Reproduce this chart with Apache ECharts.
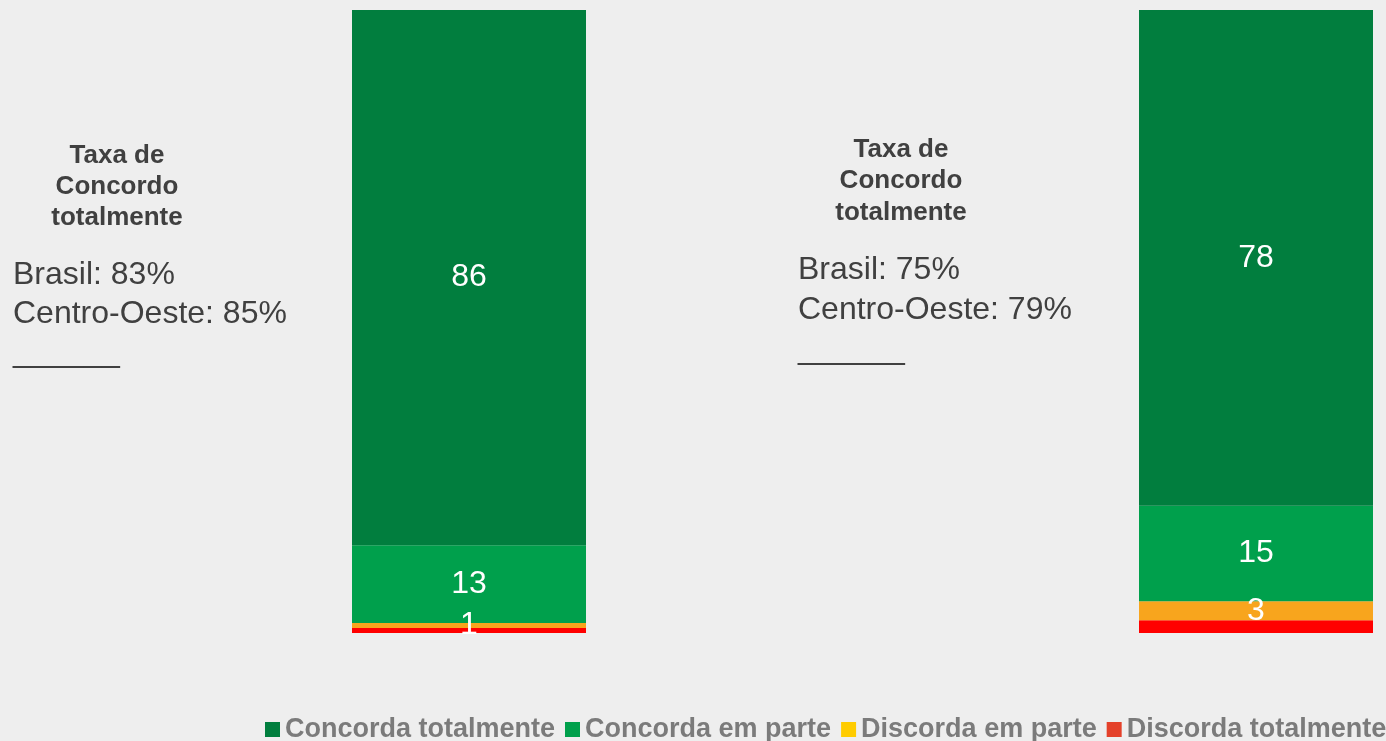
<!DOCTYPE html>
<html>
<head>
<meta charset="utf-8">
<script src="https://cdn.jsdelivr.net/npm/echarts@6/dist/echarts.min.js"></script>
<style>
    html, body { margin: 0; padding: 0; background: #eeeeee; }
    #main { width: 1386px; height: 741px; }
</style>
</head>
<body>
<div id="main"></div>
<script>
// categorias da legenda
var categorias = ['Concorda totalmente', 'Concorda em parte', 'Discorda em parte', 'Discorda totalmente'];
// valores de cada barra (%)
var valoresBarra1 = [85.9, 12.5, 0.8, 0.8];
var valoresBarra2 = [78, 15, 3, 2];
// quais rótulos aparecem na barra
var mostraRotulo = [true, true, true, false];

var textoEsq = ['Taxa de', 'Concordo', 'totalmente'];
var linhasEsq = ['Brasil: 83%', 'Centro-Oeste: 85%', '______'];
var textoDir = ['Taxa de', 'Concordo', 'totalmente'];
var linhasDir = ['Brasil: 75%', 'Centro-Oeste: 79%', '______'];

var coresBarra = ['#017e3e', '#00a04c', '#f8a51d', '#ff0000'];
var coresLegenda = ['#017e3e', '#00a04c', '#ffcc00', '#e4412a'];

function soma(arr) {
    var s = 0;
    for (var i = 0; i < arr.length; i++) s += arr[i];
    return s;
}

// empilha de baixo (discorda) para cima (concorda)
function montaSeries(valores, idx) {
    var lista = [];
    for (var i = categorias.length - 1; i >= 0; i--) {
        lista.push({
            name: categorias[i],
            type: 'bar',
            stack: 'barra' + idx,
            xAxisIndex: idx,
            yAxisIndex: idx,
            barWidth: '100%',
            data: [valores[i]],
            itemStyle: { color: coresBarra[i] },
            label: {
                show: mostraRotulo[i],
                position: 'inside',
                color: '#ffffff',
                fontSize: 32,
                fontFamily: 'Liberation Sans, Arial, sans-serif',
                formatter: function (p) { return Math.round(p.value); }
            }
        });
    }
    return lista;
}

var myChart = echarts.init(document.getElementById('main'));

var legendData = [];
for (var i = 0; i < categorias.length; i++) {
    legendData.push({ name: categorias[i], itemStyle: { color: coresLegenda[i] } });
}

var option = {
    backgroundColor: '#eeeeee',
    animation: false,
    grid: [{
        left: 352, top: 10, width: 234, height: 623
    }, {
        left: 1139, top: 10, width: 234, height: 623
    }],
    xAxis: [{
        type: 'category', data: [''], show: false, gridIndex: 0
    }, {
        type: 'category', data: [''], show: false, gridIndex: 1
    }],
    yAxis: [{
        type: 'value', show: false, min: 0, max: soma(valoresBarra1), gridIndex: 0
    }, {
        type: 'value', show: false, min: 0, max: soma(valoresBarra2), gridIndex: 1
    }],
    legend: {
        data: legendData,
        left: 260,
        top: 711,
        width: 1126,
        icon: 'rect',
        itemWidth: 15,
        itemHeight: 15,
        itemGap: 10,
        selectedMode: false,
        textStyle: {
            color: '#7b7b7b',
            fontSize: 27,
            fontWeight: 'bold',
            fontFamily: 'Liberation Sans, Arial, sans-serif'
        }
    },
    graphic: [{
        type: 'text',
        x: 117, y: 140,
        style: {
            text: textoEsq.join('\n'),
            align: 'center',
            verticalAlign: 'top',
            font: 'bold 26px "Liberation Sans", Arial, sans-serif',
            lineHeight: 31,
            fill: '#404040'
        }
    }, {
        type: 'text',
        x: 13, y: 256,
        style: {
            text: linhasEsq.join('\n'),
            verticalAlign: 'top',
            font: '32px "Liberation Sans", Arial, sans-serif',
            lineHeight: 39,
            fill: '#404040'
        }
    }, {
        type: 'text',
        x: 901, y: 134,
        style: {
            text: textoDir.join('\n'),
            align: 'center',
            verticalAlign: 'top',
            font: 'bold 26px "Liberation Sans", Arial, sans-serif',
            lineHeight: 31.5,
            fill: '#404040'
        }
    }, {
        type: 'text',
        x: 798, y: 250,
        style: {
            text: linhasDir.join('\n'),
            verticalAlign: 'top',
            font: '32px "Liberation Sans", Arial, sans-serif',
            lineHeight: 40,
            fill: '#404040'
        }
    }],
    series: montaSeries(valoresBarra1, 0).concat(montaSeries(valoresBarra2, 1))
};

myChart.setOption(option);
</script>
</body>
</html>
